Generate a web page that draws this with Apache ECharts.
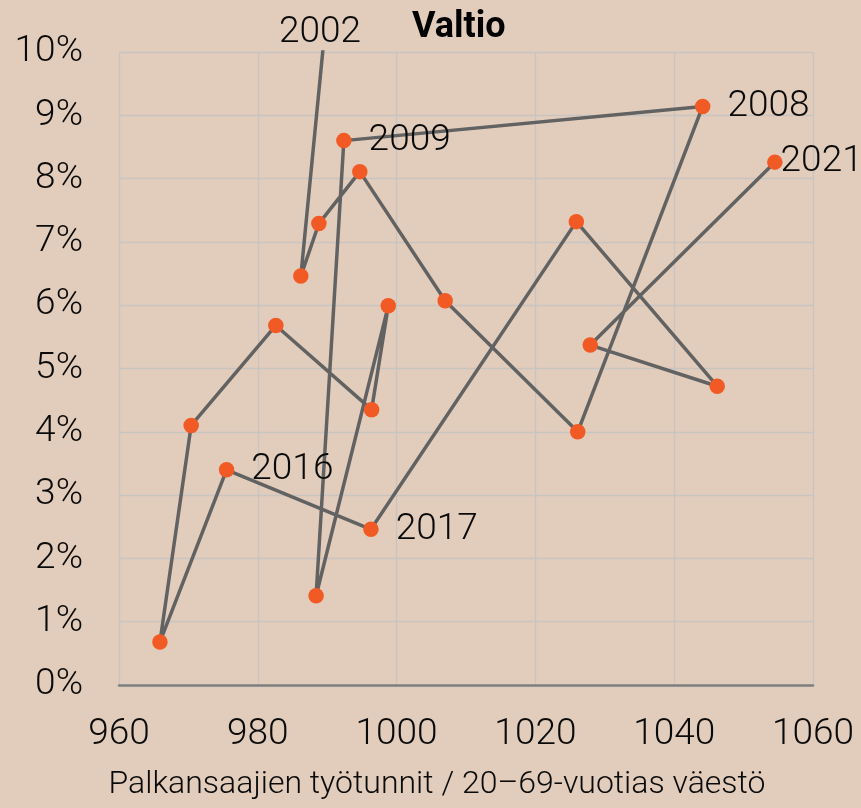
<!DOCTYPE html>
<html>
<head>
<meta charset="utf-8">
<script src="https://cdn.jsdelivr.net/npm/echarts@6/dist/echarts.min.js"></script>
<style>
  html, body { margin: 0; padding: 0; background: #e2cdbc; }
  #chart { width: 861px; height: 808px; }
</style>
</head>
<body>
<div id="chart"></div>
<script>
// vuodet, työtunnit ja osuus (%)
const years = [2002, 2003, 2004, 2005, 2006, 2007, 2008, 2009, 2010, 2011,
  2012, 2013, 2014, 2015, 2016, 2017, 2018, 2019, 2020, 2021];
const hours = [990.6, 986.2, 988.8, 994.7, 1007.0, 1026.1, 1044.1, 992.4, 988.4, 998.8,
  996.4, 982.6, 970.4, 965.9, 975.5, 996.3, 1025.9, 1046.2, 1027.9, 1054.5];
const rates = [11.4, 6.46, 7.29, 8.11, 6.07, 4.00, 9.14, 8.60, 1.41, 5.99,
  4.35, 5.68, 4.10, 0.68, 3.40, 2.46, 7.32, 4.72, 5.37, 8.26];
const labelYears = [2008, 2009, 2016, 2017, 2021];
const xTicks = [960, 980, 1000, 1020, 1040, 1060];
const yTicks = [0, 1, 2, 3, 4, 5, 6, 7, 8, 9, 10];

const font = 'Roboto, "Noto Sans", sans-serif';

const seriesData = years.map((y, i) => {
  const item = { value: [hours[i], rates[i]], name: String(y) };
  if (labelYears.includes(y)) {
    item.label = {
      show: true,
      position: 'right',
      distance: y === 2021 ? -2 : 17,
      formatter: '{b}',
      color: '#0a0a0a',
      fontSize: 37,
      fontWeight: 300,
      fontFamily: font
    };
  }
  return item;
});

const chart = echarts.init(document.getElementById('chart'));
chart.setOption({
  backgroundColor: '#e2cdbc',
  animation: false,
  textStyle: { fontFamily: font },
  title: {
    text: 'Valtio',
    left: 407,
    top: 5,
    textStyle: { color: '#000', fontSize: 36, fontWeight: 'bold', fontFamily: font }
  },
  graphic: [{
    type: 'text',
    left: 279,
    top: 14,
    style: { text: String(years[0]), fill: '#0a0a0a', fontSize: 37, fontWeight: 300, fontFamily: font }
  }],
  grid: { left: 119, right: 48, top: 52, bottom: 123, containLabel: false },
  xAxis: {
    type: 'value',
    min: xTicks[0],
    max: xTicks[xTicks.length - 1],
    interval: 20,
    name: 'Palkansaajien työtunnit / 20–69-vuotias väestö',
    nameLocation: 'middle',
    nameGap: 84,
    nameTextStyle: { color: '#0a0a0a', fontSize: 32, fontWeight: 300, fontFamily: font, padding: [0, 58, 0, 0] },
    axisLine: { show: true, lineStyle: { color: '#7f7f7f', width: 2.5 } },
    axisTick: { show: false },
    axisLabel: { color: '#0a0a0a', fontSize: 37, fontWeight: 300, margin: 31, fontFamily: font, formatter: v => String(v) },
    splitLine: { show: true, lineStyle: { color: '#c8c4c0', width: 1.3 } }
  },
  yAxis: {
    type: 'value',
    min: yTicks[0],
    max: yTicks[yTicks.length - 1],
    interval: 1,
    axisLine: { show: false },
    axisTick: { show: false },
    axisLabel: { color: '#0a0a0a', fontSize: 37, fontWeight: 300, margin: 36, formatter: '{value}%', fontFamily: font },
    splitLine: { show: true, lineStyle: { color: '#c8c4c0', width: 1.3 } }
  },
  series: [{
    type: 'line',
    data: seriesData,
    clip: true,
    symbol: 'circle',
    symbolSize: 15.5,
    showAllSymbol: true,
    lineStyle: { color: '#626262', width: 3.5 },
    itemStyle: { color: '#f15a24', borderWidth: 0 },
    emphasis: { disabled: true }
  }]
});
</script>
</body>
</html>
